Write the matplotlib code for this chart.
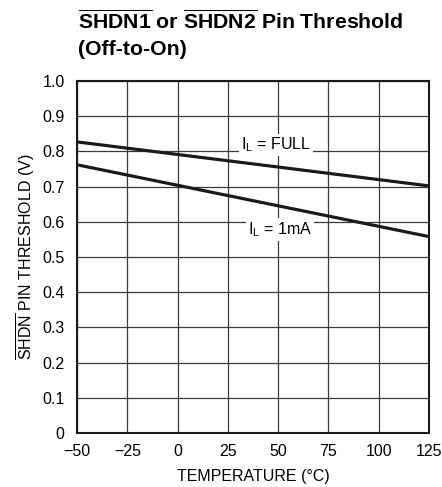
import matplotlib
matplotlib.use("Agg")
import matplotlib.pyplot as plt
import matplotlib.font_manager as fm
import numpy as np

# ── 폰트 ──
_prefer = ["Liberation Sans Narrow", "Liberation Sans", "DejaVu Sans"]
_available = {f.name for f in fm.fontManager.ttflist}
FONT = next(f for f in _prefer if f in _available or f == "DejaVu Sans")
plt.rcParams["font.family"] = [FONT, "DejaVu Sans"]
plt.rcParams["mathtext.fontset"] = "custom"
plt.rcParams["mathtext.rm"] = FONT
plt.rcParams["mathtext.it"] = FONT
plt.rcParams["mathtext.bf"] = FONT + ":bold"

# ── 데이터 ──
temp = [-50, 125]
v_full = [0.827, 0.702]
v_1ma = [0.762, 0.558]

x_ticks = [-50, -25, 0, 25, 50, 75, 100, 125]
x_labels = ["\u221250", "\u221225", "0", "25", "50", "75", "100", "125"]
y_ticks = [0, 0.1, 0.2, 0.3, 0.4, 0.5, 0.6, 0.7, 0.8, 0.9, 1.0]
y_labels = ["0", "0.1", "0.2", "0.3", "0.4", "0.5", "0.6", "0.7", "0.8", "0.9", "1.0"]

FS = 11.5

fig = plt.figure(figsize=(4.42, 4.87), dpi=100)
ax = fig.add_axes([77 / 442, 1 - 433 / 487, 352 / 442, 352 / 487])

ax.plot(temp, v_full, color="#1a1a1a", lw=2.3, solid_capstyle="butt", zorder=3)
ax.plot(temp, v_1ma, color="#1a1a1a", lw=2.3, solid_capstyle="butt", zorder=3)

ax.set_xlim(-50, 125)
ax.set_ylim(0, 1.0)
ax.set_xticks(x_ticks)
ax.set_xticklabels(x_labels, fontsize=FS)
ax.set_yticks(y_ticks)
ax.set_yticklabels(y_labels, fontsize=FS)
ax.tick_params(axis="x", length=0, pad=8)
ax.tick_params(axis="y", length=0, pad=9)
ax.grid(True, color="#3a3a3a", lw=0.9)
for s in ax.spines.values():
    s.set_linewidth(1.5)
    s.set_color("#1a1a1a")

box = dict(facecolor="white", edgecolor="none", pad=1.5)
ax.text(49, 0.818, r"$\mathrm{I_L}$ = FULL", fontsize=FS, ha="center", va="center",
        bbox=box, zorder=4)
ax.text(51, 0.577, r"$\mathrm{I_L}$ = 1mA", fontsize=FS, ha="center", va="center",
        bbox=box, zorder=4)

ax.set_xlabel("TEMPERATURE (\u00b0C)", fontsize=FS, labelpad=7)
ax.set_ylabel(r"$\overline{\mathrm{SHDN}}$ PIN THRESHOLD (V)", fontsize=FS, labelpad=4)

fig.text(78 / 442, 1 - 10 / 487,
         r"$\overline{\mathbf{SHDN1}}$ or $\overline{\mathbf{SHDN2}}$ Pin Threshold" + "\n(Off-to-On)",
         fontsize=15.3, fontweight="bold", ha="left", va="top", linespacing=1.45)

fig.savefig("out.png", dpi=100)
